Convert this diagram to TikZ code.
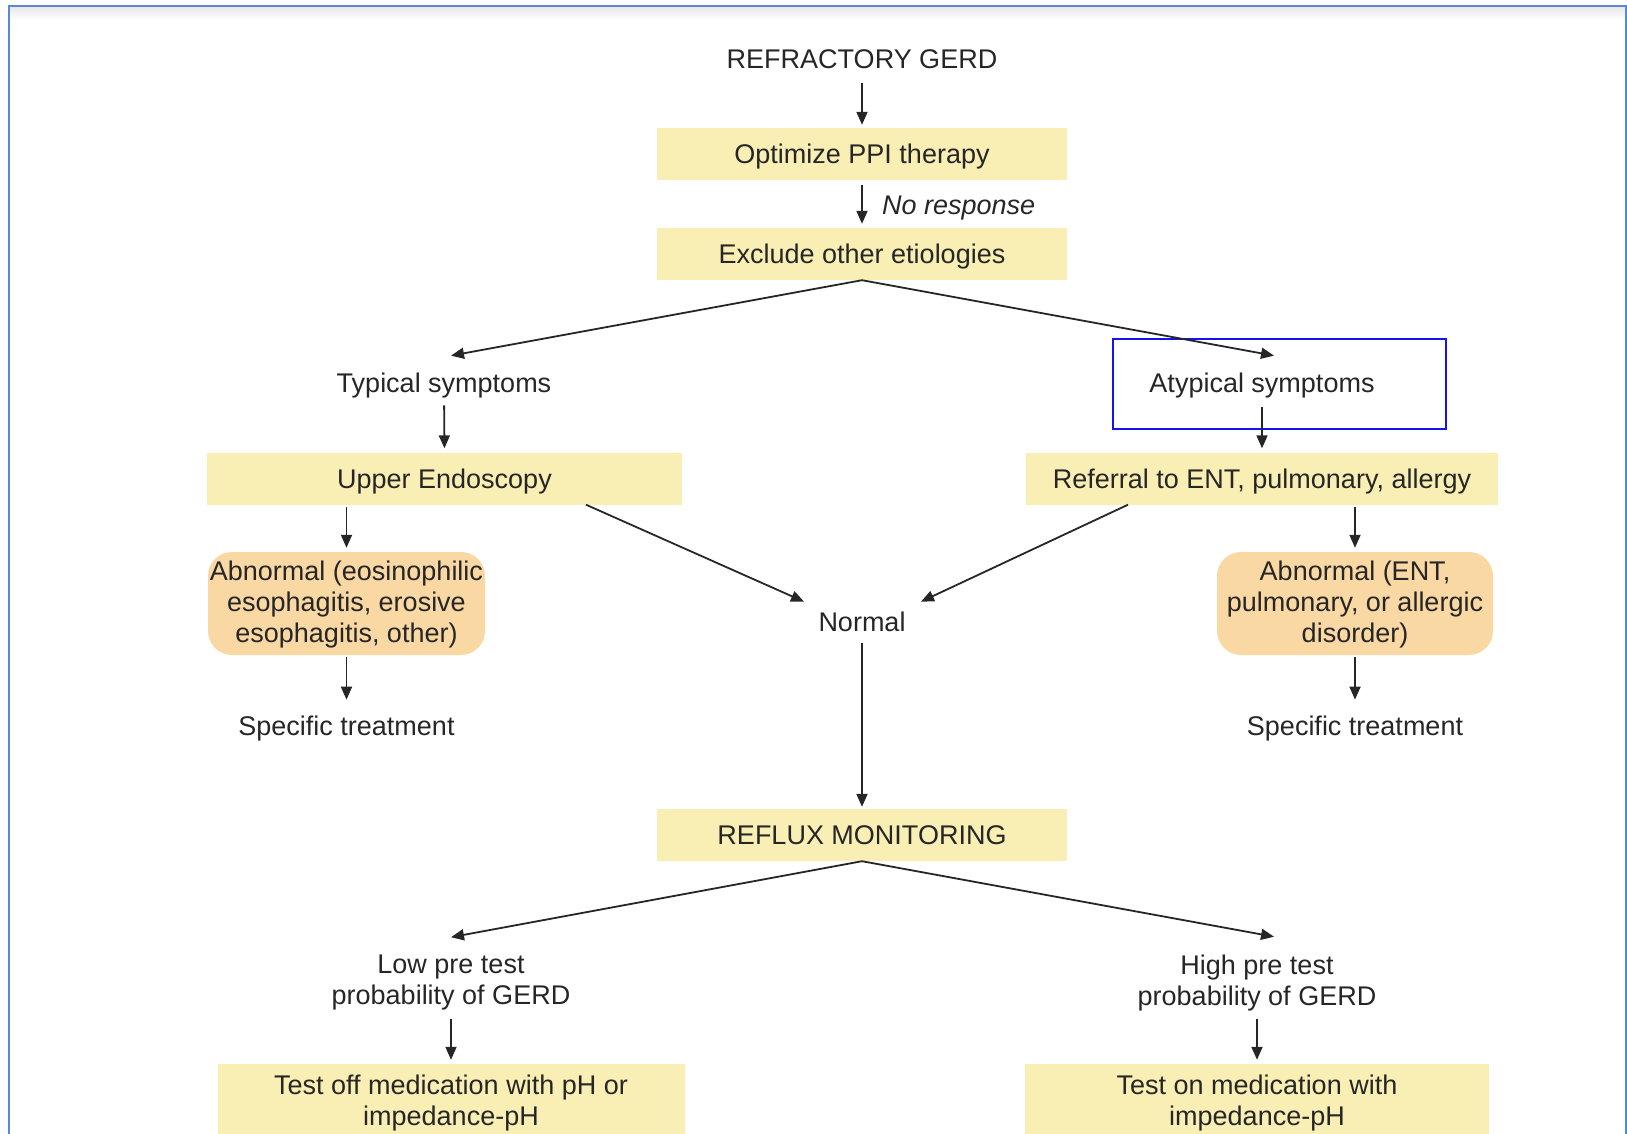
\documentclass[tikz,border=0pt]{standalone}
\usepackage{fontspec}
\setmainfont{Liberation Sans}
\usetikzlibrary{arrows.meta}
\definecolor{boxyellow}{RGB}{249,239,180}
\definecolor{boxpeach}{RGB}{250,216,164}
\definecolor{ink}{RGB}{38,38,38}
\definecolor{framecol}{RGB}{88,138,208}
\definecolor{markblue}{RGB}{20,20,240}

\begin{document}
\begin{tikzpicture}[x=1pt,y=-1pt,
  every node/.style={font=\fontsize{27}{31}\selectfont, text=ink, inner sep=0pt},
  lbl/.style={text height=19.3pt, text depth=0pt},
  mlbl/.style={align=center},
  ybox/.style={fill=boxyellow, text height=19.3pt, text depth=0pt, minimum height=52pt},
  ytall/.style={fill=boxyellow, align=center, minimum height=78pt},
  pbox/.style={fill=boxpeach, rounded corners=24pt, align=center, minimum height=103pt},
  arr/.style={draw=ink, line width=1.8pt, -{Triangle[length=13pt,width=11pt]}},
]
\useasboundingbox (0,0) rectangle (1627,1134);

% page frame with a soft shadow under its top edge
\shade[top color=black!9, bottom color=white] (10,7) rectangle (1625,20);
\draw[framecol, line width=2.5pt] (9,6) rectangle (1626,1170);

% nodes
\node[lbl] (title) at (862,59) {REFRACTORY GERD};
\node[ybox, minimum width=410pt] (opt) at (862,154) {Optimize PPI therapy};
\node[ybox, minimum width=410pt] (excl) at (862,254) {Exclude other etiologies};
\node[lbl, font=\fontsize{27}{31}\selectfont\itshape, anchor=west] (noresp) at (882,205) {No response};

\node[lbl] (typ) at (444,383) {Typical symptoms};
\node[lbl] (atyp) at (1262,383) {Atypical symptoms};
\node[draw=markblue, line width=1.6pt, minimum width=333pt, minimum height=90pt] (mark) at (1279.5,384) {};

\node[ybox, minimum width=475pt] (upper) at (444.5,478.5) {Upper Endoscopy};
\node[ybox, minimum width=472pt] (refer) at (1262,478.5) {Referral to ENT, pulmonary, allergy};

\node[pbox, minimum width=277pt] (abnL) at (346.5,603.5) {\rule{0pt}{22pt}Abnormal (eosinophilic\\esophagitis, erosive\\esophagitis, other)};
\node[pbox, minimum width=276pt] (abnR) at (1355,603.5) {\rule{0pt}{22pt}Abnormal (ENT,\\pulmonary, or allergic\\disorder)};

\node[lbl] (specL) at (346.5,726) {Specific treatment};
\node[lbl] (specR) at (1355,726) {Specific treatment};
\node[lbl] (normal) at (862,622) {Normal};

\node[ybox, minimum width=410pt] (reflux) at (862,835) {REFLUX MONITORING};

\node[mlbl] (low) at (451,983) {Low pre test\\probability of GERD};
\node[mlbl] (high) at (1257,983) {High pre test\\probability of GERD};

\node[ytall, minimum width=467pt] (off) at (451,1103) {Test off medication with pH or\\impedance-pH};
\node[ytall, minimum width=464pt] (on) at (1257,1103) {Test on medication with\\impedance-pH};

% connectors
\draw[arr, shorten <=14.5pt, shorten >=3pt] (title.south) -- (opt.north);
\draw[arr, shorten <=5pt, shorten >=4pt] (opt.south) -- (excl.north);
\draw[arr] (excl.south) -- ([xshift=7pt, yshift=17.5pt]typ.north);
\draw[arr] (excl.south) -- ([xshift=12pt, yshift=17.5pt]atyp.north);
\draw[arr, shorten <=12.5pt, shorten >=4pt] (typ.south) -- (upper.north);
\draw[arr, shorten <=14.5pt, shorten >=4pt] (atyp.south) -- (refer.north);
\draw[arr, shorten <=2pt, shorten >=4pt] (abnL.north |- upper.south) -- (abnL.north);
\draw[arr, shorten <=2pt, shorten >=16.5pt] (abnL.south) -- (specL.north);
\draw[arr, shorten <=2pt, shorten >=4pt] (abnR.north |- refer.south) -- (abnR.north);
\draw[arr, shorten <=2pt, shorten >=16.5pt] (abnR.south) -- (specR.north);
\draw[arr] ([xshift=141.5pt]upper.south) -- ([xshift=-58pt, yshift=10.5pt]normal.north);
\draw[arr] ([xshift=-134pt]refer.south) -- ([xshift=59pt, yshift=10.5pt]normal.north);
\draw[arr, shorten <=11.5pt, shorten >=2pt] (normal.south) -- (reflux.north);
\draw[arr] (reflux.south) -- ([xshift=0pt, yshift=18pt]low.north);
\draw[arr] (reflux.south) -- ([xshift=17pt, yshift=18pt]high.north);
\draw[arr, shorten <=8pt, shorten >=4pt] (low.south) -- (off.north);
\draw[arr, shorten <=8pt, shorten >=4pt] (high.south) -- (on.north);
\end{tikzpicture}
\end{document}
